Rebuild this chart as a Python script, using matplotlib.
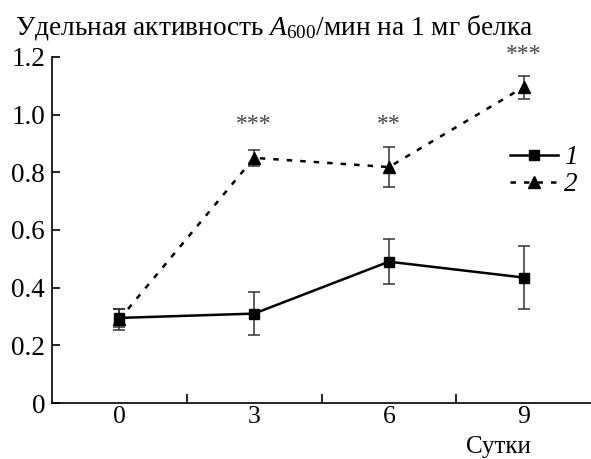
import matplotlib
matplotlib.use('Agg')
import matplotlib.pyplot as plt
from matplotlib.lines import Line2D
from matplotlib.ticker import FixedLocator, FixedFormatter

plt.rcParams['font.family'] = ['Liberation Serif', 'DejaVu Serif']
plt.rcParams['mathtext.fontset'] = 'custom'
plt.rcParams['mathtext.rm'] = 'Liberation Serif'
plt.rcParams['mathtext.it'] = 'Liberation Serif:italic'

# data
days = ['0', '3', '6', '9']
control = [0.295, 0.31, 0.49, 0.435]
controlErr = [0.03, 0.075, 0.077, 0.108]
treated = [0.29, 0.85, 0.818, 1.095]
treatedErr = [0.037, 0.028, 0.068, 0.04]
stars = ['', '***', '**', '***']
starHeights = [0, 0.965, 0.965, 1.21]
yTicks = [0, 0.2, 0.4, 0.6, 0.8, 1.0, 1.2]
yTickLabels = ['0', '0.2', '0.4', '0.6', '0.8', '1.0', '1.2']

dotted = (0, (2.2, 3.2))

fig = plt.figure(figsize=(5.91, 4.59), dpi=100)
ax = fig.add_axes([0.088, 0.122, 0.912, 0.754])

xs = list(range(len(days)))

ax.errorbar(xs, control, yerr=controlErr, color='black', marker='s', markersize=7.5,
            linewidth=1.8, ecolor='#333333', elinewidth=1.1, capsize=4, capthick=1.1,
            zorder=3)
ax.errorbar(xs, treated, yerr=treatedErr, color='black', marker='^', markersize=9,
            linewidth=1.8, linestyle=dotted, ecolor='#333333', elinewidth=1.1,
            capsize=4, capthick=1.1, zorder=3)

for x, s, h in zip(xs, stars, starHeights):
    if s:
        ax.text(x, h, s, ha='center', va='center', fontsize=17, color='#444444')

ax.set_xlim(-0.5, 3.5)
ax.set_ylim(0, 1.2)
ax.spines['top'].set_visible(False)
ax.spines['right'].set_visible(False)
ax.spines['left'].set_linewidth(1.2)
ax.spines['bottom'].set_linewidth(1.2)

ax.xaxis.set_major_locator(FixedLocator(xs))
ax.xaxis.set_major_formatter(FixedFormatter(days))
ax.xaxis.set_minor_locator(FixedLocator([0.5, 1.5, 2.5]))
ax.tick_params(axis='x', which='major', length=0, pad=2.5, labelsize=18.5)
ax.tick_params(axis='x', which='minor', direction='in', length=6.5, width=1.2)

ax.yaxis.set_major_locator(FixedLocator(yTicks))
ax.yaxis.set_major_formatter(FixedFormatter(yTickLabels))
ax.tick_params(axis='y', direction='in', length=6, width=1.2, pad=5, labelsize=19.5)

handles = [Line2D([], [], color='black', marker='s', markersize=7.5, linewidth=1.8),
           Line2D([], [], color='black', marker='^', markersize=9, linewidth=1.8,
                  linestyle=dotted)]
leg = ax.legend(handles, ['1', '2'], loc='upper left', bbox_to_anchor=(0.85, 0.745),
                frameon=False, fontsize=19.5, handlelength=1.75, handletextpad=0.25,
                labelspacing=0.08, borderaxespad=0, borderpad=0)
for t in leg.get_texts():
    t.set_fontstyle('italic')

fig.text(0.025, 0.925, 'Удельная активность $\\mathit{A}_{600}$/мин на 1 мг белка',
         fontsize=19.7, ha='left', va='baseline')
fig.text(498 / 591, 1 - 453 / 459, 'Сутки', fontsize=18, ha='center', va='baseline')

fig.savefig('out.png', dpi=100)
